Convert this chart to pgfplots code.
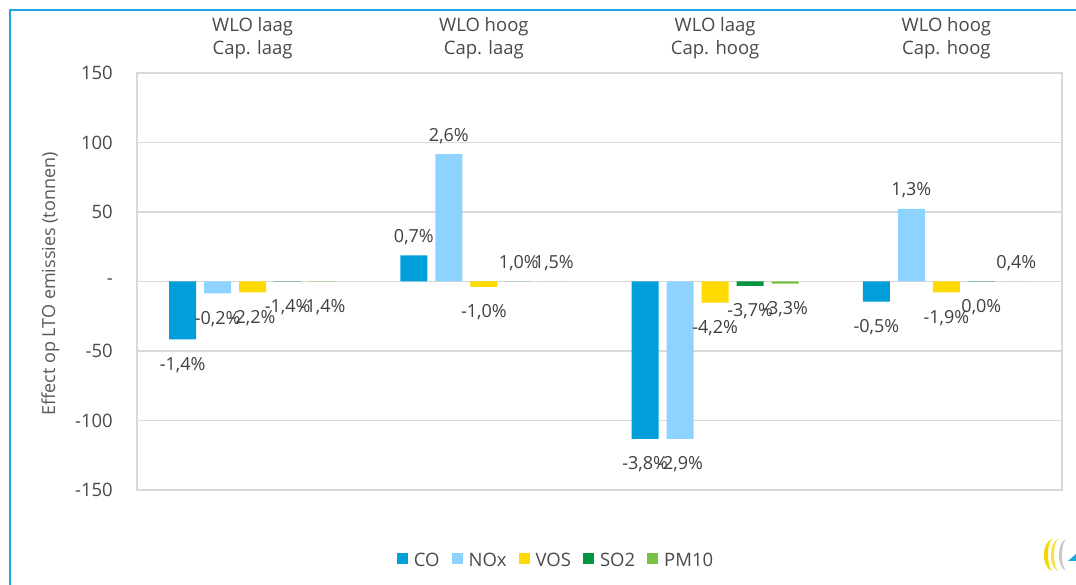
\documentclass[border=0pt]{standalone}
\usepackage{fontspec}
\setmainfont{Open Sans}
\usepackage{pgfplots}
\pgfplotsset{compat=1.18}
\usepackage{pgfplotstable}
\definecolor{coC}{HTML}{009FDA}
\definecolor{noxC}{HTML}{8ED3FF}
\definecolor{vosC}{HTML}{FFDA00}
\definecolor{so2C}{HTML}{00963F}
\definecolor{pmC}{HTML}{7AC143}
\definecolor{gridc}{HTML}{D9D9D9}
\definecolor{txt}{HTML}{4A4A4A}
\definecolor{ttl}{HTML}{595959}
\definecolor{lbl}{HTML}{404040}
\definecolor{bordercol}{HTML}{1AA7E2}
\definecolor{logoy}{HTML}{F5D800}
\definecolor{logog}{HTML}{C8C8C8}

\pgfplotstableread{
x y lab
0 -41.6 -1,4\%
1 18.8 0,7\%
2 -113.3 -3,8\%
3 -14.5 -0,5\%
}\tco
\pgfplotstableread{
x y lab
0 -8.5 -0,2\%
1 91.7 2,6\%
2 -113.3 -2,9\%
3 52.2 1,3\%
}\tnox
\pgfplotstableread{
x y lab
0 -7.8 -2,2\%
1 -3.8 -1,0\%
2 -15.2 -4,2\%
3 -7.8 -1,9\%
}\tvos
\pgfplotstableread{
x y lab
0 -0.02 -1,4\%
1 0.02 1,0\%
2 -3.2 -3,7\%
3 -0.02 0,0\%
}\tso
\pgfplotstableread{
x y lab
0 -0.02 -1,4\%
1 0.02 1,5\%
2 -1.6 -3,3\%
3 0.02 0,4\%
}\tpm

\begin{document}
\begin{tikzpicture}[x=1pt,y=1pt]
\path[fill=white, use as bounding box] (0,0) rectangle (1076,585);
\draw[bordercol, line width=2pt] (10,0) -- (10,574.5) -- (1076,574.5);
\begin{axis}[
  at={(137pt,95pt)}, anchor=south west, scale only axis,
  width=925pt, height=417pt,
  ybar=8pt, bar width=27pt,
  xmin=-0.5, xmax=3.5, ymin=-150, ymax=150,
  xtick={0,1,2,3},
  xticklabels={{WLO laag\\Cap. laag},{WLO hoog\\Cap. laag},{WLO laag\\Cap. hoog},{WLO hoog\\Cap. hoog}},
  xticklabel pos=upper,
  xticklabel style={align=center, font=\fontsize{18.5}{22.5}\selectfont, text=txt, inner sep=0pt, yshift=14pt},
  ytick={-150,-100,-50,0,50,100,150},
  yticklabels={-150,-100,-50,-,50,100,150},
  yticklabel style={font=\fontsize{18.5}{20}\selectfont, text=txt, inner sep=0pt, xshift=-24pt},
  major tick length=0pt, tick style={draw=none},
  ymajorgrids, grid style={gridc, line width=1.5pt},
  axis line style={gridc, line width=1.5pt},
  ylabel={Effect op LTO emissies (tonnen)},
  ylabel style={at={(axis description cs:-0.0935,0.494)}, anchor=center, font=\fontsize{18}{20}\selectfont, text=ttl},
  point meta=explicit symbolic,
  visualization depends on={\thisrow{y} \as \rawy},
  nodes near coords={\pgfplotspointmeta},
  every node near coord/.append style={font=\fontsize{18}{20}\selectfont, text=lbl, inner sep=0pt,
     anchor=center, yshift={ifthenelse(\rawy<0,-25.5,18.3)*1pt}},
  legend style={at={(0.453,-0.168)}, anchor=center, draw=none, fill=none,
    legend columns=5, font=\fontsize{18.5}{20}\selectfont, text=txt,
    /tikz/every even column/.append style={column sep=10pt},
    nodes={inner sep=2pt}},
  every axis plot post/.append style={legend image code/.code={\fill[##1] (0pt,-3.8pt) rectangle (11pt,7.2pt);}},
]
\addplot[fill=coC, draw=none] table[x=x,y=y,meta=lab]{\tco};
\addplot[fill=noxC, draw=none] table[x=x,y=y,meta=lab]{\tnox};
\addplot[fill=vosC, draw=none] table[x=x,y=y,meta=lab]{\tvos};
\addplot[fill=so2C, draw=none] table[x=x,y=y,meta=lab]{\tso};
\addplot[fill=pmC, draw=none] table[x=x,y=y,meta=lab]{\tpm};
\legend{\hspace*{4pt}CO,\hspace*{4pt}NOx,\hspace*{4pt}VOS,\hspace*{4pt}SO2,\hspace*{4pt}PM10}
\end{axis}
\begin{scope}
\clip (1036,8) rectangle (1076,50);
\fill[logoy] (1053,46) arc[start angle=90, end angle=270, x radius=9, y radius=16] arc[start angle=270, end angle=90, x radius=5, y radius=16];
\fill[logoy!75] (1059,46) arc[start angle=90, end angle=270, x radius=8, y radius=16] arc[start angle=270, end angle=90, x radius=5, y radius=16];
\fill[logog] (1067,46) arc[start angle=90, end angle=270, x radius=8, y radius=16] arc[start angle=270, end angle=90, x radius=5, y radius=16];
\fill[bordercol] (1068,24) -- (1076,31) -- (1076,24) -- cycle;
\end{scope}
\end{tikzpicture}
\end{document}
